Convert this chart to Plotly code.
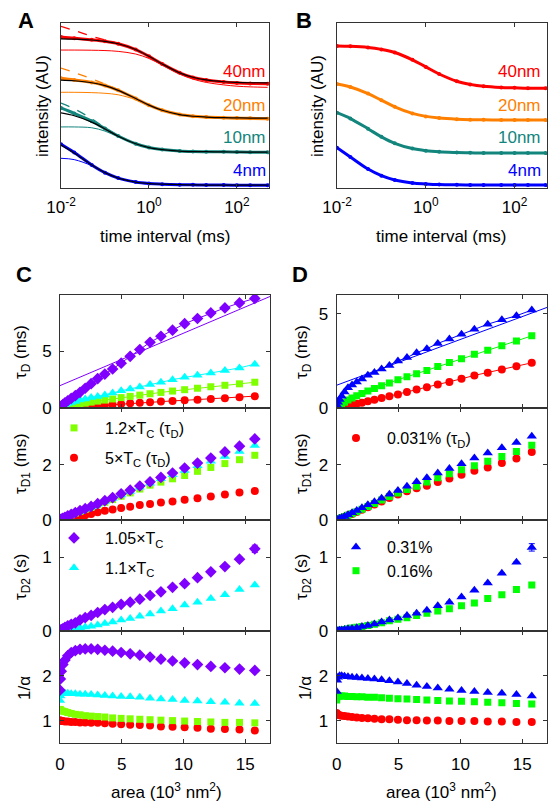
import plotly.graph_objects as go

W, H = 559, 811
def fx(p): return p / W
def fy(p): return 1 - p / H

FONT = "Liberation Sans, Arial, sans-serif"
LC = "#333333"

# ---------------- Panels A / B : intensity vs time interval ----------------
times_ms = [0.01, 0.02, 0.05, 0.1, 0.2, 0.5, 1, 2, 5, 10, 20, 50, 100, 200, 500]
size_labels = ["40nm", "20nm", "10nm", "4nm"]
size_colors = ["#ff0000", "#ff8000", "#12857d", "#0000ff"]

a_data_40 = [0.915, 0.907, 0.898, 0.889, 0.874, 0.839, 0.798, 0.752, 0.698, 0.670, 0.654, 0.642, 0.637, 0.634, 0.632]
a_fit_40  = [0.904, 0.902, 0.897, 0.889, 0.874, 0.839, 0.798, 0.752, 0.698, 0.671, 0.655, 0.644, 0.640, 0.638, 0.637]
a_dash_40 = [0.980, 0.955, 0.920, 0.897, 0.876, 0.840, 0.798, 0.752, 0.698, 0.671, 0.655, 0.644, 0.640, 0.638, 0.637]
a_thin_40 = [0.836, 0.836, 0.835, 0.833, 0.828, 0.812, 0.785, 0.745, 0.690, 0.660, 0.640, 0.625, 0.617, 0.613, 0.610]

a_data_20 = [0.665, 0.655, 0.640, 0.621, 0.592, 0.542, 0.502, 0.471, 0.445, 0.435, 0.430, 0.426, 0.424, 0.422, 0.420]
a_fit_20  = [0.654, 0.650, 0.638, 0.620, 0.592, 0.542, 0.502, 0.471, 0.445, 0.435, 0.430, 0.426, 0.425, 0.424, 0.424]
a_dash_20 = [0.727, 0.700, 0.662, 0.630, 0.596, 0.543, 0.502, 0.471, 0.445, 0.435, 0.430, 0.426, 0.425, 0.424, 0.424]
a_thin_20 = [0.580, 0.580, 0.578, 0.574, 0.565, 0.535, 0.500, 0.470, 0.443, 0.432, 0.426, 0.421, 0.419, 0.418, 0.418]

a_data_10 = [0.485, 0.452, 0.405, 0.360, 0.315, 0.268, 0.245, 0.233, 0.224, 0.221, 0.220, 0.219, 0.218, 0.217, 0.216]
a_fit_10  = [0.455, 0.438, 0.399, 0.358, 0.314, 0.268, 0.245, 0.233, 0.224, 0.221, 0.220, 0.219, 0.218, 0.218, 0.218]
a_dash_10 = [0.515, 0.480, 0.420, 0.365, 0.316, 0.268, 0.245, 0.233, 0.224, 0.221, 0.220, 0.219, 0.218, 0.218, 0.218]
a_thin_10 = [0.370, 0.370, 0.365, 0.345, 0.310, 0.266, 0.243, 0.231, 0.222, 0.219, 0.217, 0.216, 0.215, 0.215, 0.215]

a_data_4 = [0.265, 0.215, 0.140, 0.093, 0.060, 0.036, 0.027, 0.023, 0.020, 0.019, 0.018, 0.018, 0.017, 0.017, 0.017]
a_fit_4  = [0.260, 0.212, 0.139, 0.093, 0.060, 0.036, 0.027, 0.023, 0.020, 0.019, 0.018, 0.018, 0.018, 0.018, 0.018]
a_thin_4 = [0.180, 0.172, 0.135, 0.092, 0.060, 0.036, 0.027, 0.023, 0.020, 0.019, 0.018, 0.018, 0.018, 0.018, 0.018]

b_data_40 = [0.861, 0.859, 0.852, 0.840, 0.821, 0.777, 0.734, 0.691, 0.647, 0.628, 0.616, 0.609, 0.607, 0.605, 0.605]
b_data_20 = [0.630, 0.612, 0.572, 0.532, 0.492, 0.452, 0.434, 0.424, 0.417, 0.414, 0.413, 0.412, 0.412, 0.412, 0.412]
b_data_10 = [0.456, 0.421, 0.359, 0.310, 0.271, 0.239, 0.226, 0.219, 0.215, 0.213, 0.212, 0.212, 0.212, 0.212, 0.212]
b_data_4  = [0.244, 0.188, 0.115, 0.075, 0.049, 0.031, 0.025, 0.021, 0.019, 0.018, 0.018, 0.018, 0.018, 0.018, 0.018]

# ---------------- Panels C / D : vs area (10^3 nm^2) ----------------
area = [0, 0.03, 0.10, 0.23, 0.40, 0.63, 0.91, 1.24, 1.62, 2.04, 2.52, 3.05, 3.63, 4.26,
        4.95, 5.68, 6.46, 7.29, 8.17, 9.11, 10.09, 11.13, 12.21, 13.35, 14.53, 15.77]

# C: temperatures (1.05, 1.1, 1.2, 5 x Tc)
c_tauD_105 = [0, 0.08, 0.17, 0.30, 0.45, 0.64, 0.85, 1.09, 1.39, 1.75, 2.15, 2.60, 3.00, 3.45, 3.97, 4.57, 5.17, 5.82, 6.35, 6.89, 7.46, 7.92, 8.41, 8.86, 9.30, 9.70]
c_tauD_11  = [0, 0.05, 0.12, 0.20, 0.30, 0.39, 0.48, 0.58, 0.70, 0.80, 0.93, 1.02, 1.15, 1.32, 1.52, 1.68, 1.86, 2.07, 2.27, 2.51, 2.72, 2.90, 3.10, 3.31, 3.55, 3.88]
c_tauD_12  = [0, 0.01, 0.02, 0.05, 0.09, 0.14, 0.20, 0.27, 0.35, 0.43, 0.52, 0.61, 0.70, 0.80, 0.92, 1.03, 1.14, 1.26, 1.38, 1.50, 1.62, 1.75, 1.88, 2.01, 2.14, 2.28]
c_tauD_5   = [0, 0, 0.01, 0.01, 0.02, 0.03, 0.05, 0.07, 0.10, 0.13, 0.17, 0.21, 0.25, 0.30, 0.36, 0.41, 0.46, 0.51, 0.57, 0.63, 0.68, 0.74, 0.80, 0.87, 0.95, 1.05]
c_fit_area = [0, 17]
c_fit_105  = [1.98, 9.87]

c_tauD1_105 = [0, 0.01, 0.03, 0.06, 0.10, 0.15, 0.20, 0.27, 0.34, 0.41, 0.49, 0.59, 0.70, 0.81, 0.95, 1.08, 1.23, 1.38, 1.54, 1.70, 1.88, 2.06, 2.24, 2.46, 2.67, 2.93]
c_tauD1_11  = [0, 0.01, 0.03, 0.06, 0.10, 0.14, 0.19, 0.26, 0.32, 0.39, 0.47, 0.57, 0.67, 0.78, 0.90, 1.03, 1.18, 1.33, 1.49, 1.64, 1.79, 1.96, 2.12, 2.30, 2.48, 2.69]
c_tauD1_12  = [0, 0.01, 0.03, 0.06, 0.10, 0.14, 0.19, 0.25, 0.31, 0.38, 0.46, 0.55, 0.64, 0.74, 0.86, 0.98, 1.12, 1.26, 1.37, 1.49, 1.61, 1.76, 1.90, 2.04, 2.18, 2.34]
c_tauD1_5   = [0, 0, 0.01, 0.02, 0.03, 0.05, 0.07, 0.10, 0.13, 0.17, 0.22, 0.28, 0.33, 0.38, 0.43, 0.48, 0.54, 0.58, 0.63, 0.67, 0.73, 0.79, 0.85, 0.92, 0.99, 1.05]

c_tauD2_105 = [0, 0.01, 0.02, 0.03, 0.05, 0.07, 0.09, 0.11, 0.15, 0.18, 0.21, 0.25, 0.29, 0.32, 0.36, 0.39, 0.43, 0.48, 0.53, 0.59, 0.64, 0.72, 0.80, 0.87, 0.97, 1.11]
c_tauD2_105_err = [0] * 25 + [0.05]
c_tauD2_11  = [0, 0, 0.005, 0.01, 0.015, 0.02, 0.03, 0.035, 0.045, 0.055, 0.065, 0.08, 0.10, 0.12, 0.15, 0.17, 0.20, 0.23, 0.27, 0.30, 0.35, 0.39, 0.44, 0.49, 0.56, 0.62]

c_inva_105 = [1.68, 1.93, 2.10, 2.25, 2.35, 2.45, 2.52, 2.56, 2.59, 2.60, 2.60, 2.59, 2.57, 2.55, 2.52, 2.49, 2.46, 2.42, 2.37, 2.33, 2.29, 2.25, 2.21, 2.18, 2.15, 2.12]
c_inva_11  = [1.45, 1.55, 1.60, 1.61, 1.61, 1.61, 1.60, 1.60, 1.59, 1.59, 1.58, 1.57, 1.56, 1.55, 1.54, 1.53, 1.52, 1.50, 1.48, 1.47, 1.45, 1.44, 1.42, 1.41, 1.39, 1.38]
c_inva_12  = [1.25, 1.24, 1.22, 1.21, 1.20, 1.18, 1.16, 1.14, 1.13, 1.11, 1.10, 1.09, 1.08, 1.06, 1.05, 1.04, 1.03, 1.02, 1.01, 1.00, 0.99, 0.98, 0.97, 0.96, 0.96, 0.95]
c_inva_5   = [1.00, 1.00, 0.99, 0.99, 0.98, 0.98, 0.97, 0.97, 0.96, 0.96, 0.95, 0.95, 0.94, 0.93, 0.92, 0.91, 0.90, 0.89, 0.87, 0.86, 0.85, 0.84, 0.82, 0.81, 0.80, 0.78]

# D: concentrations (0.31 %, 0.16 %, 0.031 %)
d_tauD_031  = [0, 0.15, 0.30, 0.45, 0.62, 0.85, 1.07, 1.22, 1.38, 1.54, 1.74, 1.89, 2.07, 2.26, 2.50, 2.68, 2.93, 3.15, 3.43, 3.66, 3.92, 4.18, 4.45, 4.68, 4.90, 5.20]
d_tauD_016  = [0, 0.05, 0.10, 0.18, 0.24, 0.31, 0.42, 0.53, 0.65, 0.77, 0.90, 1.03, 1.18, 1.33, 1.50, 1.66, 1.82, 1.99, 2.20, 2.41, 2.62, 2.85, 3.06, 3.30, 3.56, 3.83]
d_tauD_0031 = [0, 0.01, 0.02, 0.04, 0.06, 0.09, 0.12, 0.16, 0.22, 0.28, 0.36, 0.44, 0.53, 0.62, 0.72, 0.85, 0.98, 1.10, 1.25, 1.38, 1.55, 1.73, 1.87, 2.05, 2.22, 2.40]
d_fit_area = [0, 17]
d_fit_031  = [1.21, 5.34]

d_tauD1_031  = [0, 0.01, 0.02, 0.05, 0.08, 0.13, 0.19, 0.26, 0.34, 0.44, 0.55, 0.66, 0.79, 0.93, 1.07, 1.22, 1.38, 1.53, 1.70, 1.86, 2.03, 2.24, 2.42, 2.61, 2.80, 3.03]
d_tauD1_016  = [0, 0.01, 0.02, 0.05, 0.08, 0.12, 0.17, 0.23, 0.30, 0.39, 0.49, 0.60, 0.72, 0.85, 0.98, 1.10, 1.22, 1.37, 1.53, 1.67, 1.82, 1.96, 2.12, 2.30, 2.48, 2.70]
d_tauD1_0031 = [0, 0.01, 0.02, 0.05, 0.08, 0.12, 0.17, 0.22, 0.29, 0.37, 0.46, 0.56, 0.67, 0.80, 0.92, 1.04, 1.15, 1.24, 1.37, 1.50, 1.64, 1.78, 1.90, 2.06, 2.22, 2.46]

d_tauD2_031 = [0, 0, 0.005, 0.01, 0.015, 0.02, 0.03, 0.035, 0.045, 0.06, 0.075, 0.095, 0.12, 0.15, 0.175, 0.21, 0.24, 0.28, 0.34, 0.39, 0.46, 0.55, 0.65, 0.78, 0.93, 1.13]
d_tauD2_031_err = [0] * 25 + [0.05]
d_tauD2_016 = [0, 0, 0.005, 0.01, 0.015, 0.02, 0.03, 0.04, 0.05, 0.06, 0.075, 0.09, 0.11, 0.14, 0.16, 0.18, 0.21, 0.24, 0.27, 0.30, 0.34, 0.38, 0.44, 0.49, 0.56, 0.62]

d_inva_031  = [1.65, 1.90, 1.97, 2.00, 2.00, 1.99, 1.98, 1.97, 1.96, 1.95, 1.94, 1.93, 1.91, 1.89, 1.86, 1.83, 1.79, 1.76, 1.73, 1.70, 1.67, 1.65, 1.63, 1.61, 1.58, 1.55]
d_inva_016  = [1.46, 1.53, 1.55, 1.55, 1.55, 1.55, 1.54, 1.54, 1.53, 1.53, 1.52, 1.52, 1.51, 1.50, 1.49, 1.48, 1.47, 1.46, 1.45, 1.44, 1.43, 1.42, 1.41, 1.40, 1.38, 1.37]
d_inva_0031 = [1.17, 1.15, 1.13, 1.12, 1.11, 1.10, 1.09, 1.08, 1.07, 1.06, 1.05, 1.04, 1.03, 1.03, 1.02, 1.01, 1.01, 1.00, 1.00, 0.99, 0.99, 0.99, 0.98, 0.98, 0.97, 0.97]

PURPLE, CYAN, LIME, RED = "#7f00ff", "#00ffff", "#80ff00", "#ff0000"
BLUE, GREEN = "#0000ff", "#00ff00"

fig = go.Figure()

# ---- Panel A ----
a_sets = [(a_data_40, a_fit_40, a_dash_40, a_thin_40),
          (a_data_20, a_fit_20, a_dash_20, a_thin_20),
          (a_data_10, a_fit_10, a_dash_10, a_thin_10),
          (a_data_4, a_fit_4, None, a_thin_4)]
for (dat, fit, dash, thin), col in zip(a_sets, size_colors):
    fig.add_trace(go.Scatter(x=times_ms, y=thin, mode="lines", xaxis="x", yaxis="y",
                             line=dict(color=col, width=1, shape="spline"), showlegend=False))
    if dash is not None:
        fig.add_trace(go.Scatter(x=times_ms, y=dash, mode="lines", xaxis="x", yaxis="y",
                                 line=dict(color=col, width=1.3, dash="dash", shape="spline"), showlegend=False))
    fig.add_trace(go.Scatter(x=times_ms, y=dat, mode="lines+markers", xaxis="x", yaxis="y",
                             line=dict(color=col, width=3, shape="spline"),
                             marker=dict(color=col, size=4), showlegend=False))
    fig.add_trace(go.Scatter(x=times_ms, y=fit, mode="lines", xaxis="x", yaxis="y",
                             line=dict(color="black", width=1.2, shape="spline"), showlegend=False))

# ---- Panel B ----
for dat, col in zip([b_data_40, b_data_20, b_data_10, b_data_4], size_colors):
    fig.add_trace(go.Scatter(x=times_ms, y=dat, mode="lines+markers", xaxis="x2", yaxis="y2",
                             line=dict(color=col, width=3, shape="spline"),
                             marker=dict(color=col, size=4), showlegend=False))

# ---- Panels C / D ----
SYM = {"circle": 8, "square": 7, "diamond": 9, "triangle-up": 9}

def series(xa, ya, y, col, sym, lines=False, err=None, name=None, legend=None, rank=None):
    kw = {}
    if err is not None:
        kw["error_y"] = dict(type="data", array=err, color=col, thickness=1, width=3)
    fig.add_trace(go.Scatter(
        x=area, y=y, xaxis=xa, yaxis=ya,
        mode="lines+markers" if lines else "markers",
        line=dict(color=col, width=1),
        marker=dict(color=col, symbol=sym, size=SYM[sym], line=dict(width=0)),
        name=name if name else "", showlegend=name is not None,
        legend=legend if legend else "legend",
        legendgroup=name if name else None,
        legendrank=rank if rank else 1000, **kw))

# C1
series("x3", "y3", c_tauD_5, RED, "circle", lines=True)
series("x3", "y3", c_tauD_12, LIME, "square", lines=True)
series("x3", "y3", c_tauD_11, CYAN, "triangle-up", lines=True)
series("x3", "y3", c_tauD_105, PURPLE, "diamond", lines=True)
fig.add_trace(go.Scatter(x=c_fit_area, y=c_fit_105, mode="lines", xaxis="x3", yaxis="y3",
                         line=dict(color=PURPLE, width=1), showlegend=False))
# C2
series("x4", "y4", c_tauD1_5, RED, "circle", name="5×T<sub>C</sub> (τ<sub>D</sub>)", legend="legend", rank=2)
series("x4", "y4", c_tauD1_12, LIME, "square", name="1.2×T<sub>C</sub> (τ<sub>D</sub>)", legend="legend", rank=1)
series("x4", "y4", c_tauD1_11, CYAN, "triangle-up")
series("x4", "y4", c_tauD1_105, PURPLE, "diamond")
# C3
series("x5", "y5", c_tauD2_11, CYAN, "triangle-up", name="1.1×T<sub>C</sub>", legend="legend2", rank=2)
series("x5", "y5", c_tauD2_105, PURPLE, "diamond", err=c_tauD2_105_err, name="1.05×T<sub>C</sub>", legend="legend2", rank=1)
# C4
series("x6", "y6", c_inva_5, RED, "circle")
series("x6", "y6", c_inva_12, LIME, "square")
series("x6", "y6", c_inva_11, CYAN, "triangle-up")
series("x6", "y6", c_inva_105, PURPLE, "diamond")

# D1
series("x7", "y7", d_tauD_0031, RED, "circle", lines=True)
series("x7", "y7", d_tauD_016, GREEN, "square", lines=True)
series("x7", "y7", d_tauD_031, BLUE, "triangle-up", lines=True)
fig.add_trace(go.Scatter(x=d_fit_area, y=d_fit_031, mode="lines", xaxis="x7", yaxis="y7",
                         line=dict(color=BLUE, width=1), showlegend=False))
# D2
series("x8", "y8", d_tauD1_0031, RED, "circle", name="0.031% (τ<sub>D</sub>)", legend="legend3", rank=1)
series("x8", "y8", d_tauD1_016, GREEN, "square")
series("x8", "y8", d_tauD1_031, BLUE, "triangle-up")
# D3
series("x9", "y9", d_tauD2_016, GREEN, "square", name="0.16%", legend="legend4", rank=2)
series("x9", "y9", d_tauD2_031, BLUE, "triangle-up", err=d_tauD2_031_err, name="0.31%", legend="legend4", rank=1)
# D4
series("x10", "y10", d_inva_0031, RED, "circle")
series("x10", "y10", d_inva_016, GREEN, "square")
series("x10", "y10", d_inva_031, BLUE, "triangle-up")

# ---------------- axes ----------------
def base_axis(**kw):
    d = dict(showline=True, linecolor=LC, linewidth=1, mirror="ticks", ticks="inside",
             ticklen=4, tickcolor=LC, showgrid=False, zeroline=False, automargin=False,
             tickfont=dict(size=17, color="black", family=FONT))
    d.update(kw)
    return d

layout = {}
ab_y = [fy(188), fy(23)]
layout["xaxis"] = base_axis(type="log", range=[-2, 2.73], domain=[fx(61), fx(269)], anchor="y",
                            tickvals=[0.01, 1, 100], ticktext=["10<sup>-2</sup>", "10<sup>0</sup>", "10<sup>2</sup>"],
                            ticklabelstandoff=4)
layout["yaxis"] = base_axis(range=[0, 1], domain=ab_y, anchor="x", showticklabels=False, ticks="", mirror=True)
layout["xaxis2"] = base_axis(type="log", range=[-2, 2.73], domain=[fx(337), fx(547)], anchor="y2",
                             tickvals=[0.01, 1, 100], ticktext=["10<sup>-2</sup>", "10<sup>0</sup>", "10<sup>2</sup>"],
                             ticklabelstandoff=4)
layout["yaxis2"] = base_axis(range=[0, 1], domain=ab_y, anchor="x2", showticklabels=False, ticks="", mirror=True)

rows = [(295, 408), (408, 520), (520, 631), (631, 743)]
yranges = [[0, 10], [0, 4.05], [0, 1.5], [0.5, 3]]
yticks_c = [[0, 5], [0, 2], [0, 1], [1, 2]]
yranges_d = [[0, 6], [0, 4.05], [0, 1.5], [0.5, 3]]
for col_i, (xdom, yr_list) in enumerate([([fx(60), fx(270)], yranges), ([fx(336.7), fx(547)], yranges_d)]):
    for r in range(4):
        n = 3 + col_i * 4 + r
        top, bot = rows[r]
        layout[f"xaxis{n}"] = base_axis(range=[0, 17], domain=xdom, anchor=f"y{n}",
                                        tickvals=[0, 5, 10, 15], showticklabels=(r == 3),
                                        ticklabelstandoff=6)
        layout[f"yaxis{n}"] = base_axis(range=yr_list[r], domain=[fy(bot), fy(top)], anchor=f"x{n}",
                                        tickvals=yticks_c[r], ticklabelstandoff=4)

leg_common = dict(bgcolor="rgba(0,0,0,0)", font=dict(size=16, family=FONT, color="black"),
                  xanchor="left", yanchor="top", itemwidth=52, traceorder="grouped",
                  tracegroupgap=6, itemclick=False, itemdoubleclick=False)
layout["legend"] = dict(leg_common, x=fx(43), y=fy(411))
layout["legend2"] = dict(leg_common, x=fx(43), y=fy(521))
layout["legend3"] = dict(leg_common, x=fx(325), y=fy(421))
layout["legend4"] = dict(leg_common, x=fx(325), y=fy(530), tracegroupgap=0)

# ---------------- annotations ----------------
ann = []
def text(x, y, t, size=17, **kw):
    d = dict(x=fx(x), y=fy(y), xref="paper", yref="paper", text=t, showarrow=False,
             xanchor="center", yanchor="middle",
             font=dict(size=size, family=FONT, color=kw.pop("color", "black")))
    d.update(kw)
    ann.append(d)

for lab, xx, yy in [("A", 26, 21), ("B", 304, 21), ("C", 24, 274), ("D", 300, 274)]:
    text(xx, yy, f"<b>{lab}</b>", size=22)

for lab, col, yy in zip(size_labels, size_colors, [72, 106, 137, 170]):
    text(268, yy, lab, color=col, xanchor="right")
    text(543, yy, lab, color=col, xanchor="right")

text(43, 106, "intensity (AU)", textangle=-90)
text(318, 106, "intensity (AU)", textangle=-90)
text(165, 237, "time interval (ms)")
text(441, 237, "time interval (ms)")
text(166, 791, "area (10<sup>3</sup> nm<sup>2</sup>)")
text(441, 791, "area (10<sup>3</sup> nm<sup>2</sup>)")

for xx in (22, 303):
    text(xx, 352, "τ<sub>D</sub> (ms)", textangle=-90)
    text(xx, 464, "τ<sub>D1</sub> (ms)", textangle=-90)
    text(xx, 577, "τ<sub>D2</sub> (s)", textangle=-90)
    text(xx + 2, 688, "1/α", textangle=-90)

fig.update_layout(width=W, height=H, margin=dict(l=0, r=0, t=0, b=0, autoexpand=False),
                  paper_bgcolor="white", plot_bgcolor="white",
                  font=dict(family=FONT, size=16, color="black"),
                  annotations=ann, **layout)

fig.write_html("out.html", config={"displayModeBar": False},
               post_script="document.body.style.margin='0px';")
